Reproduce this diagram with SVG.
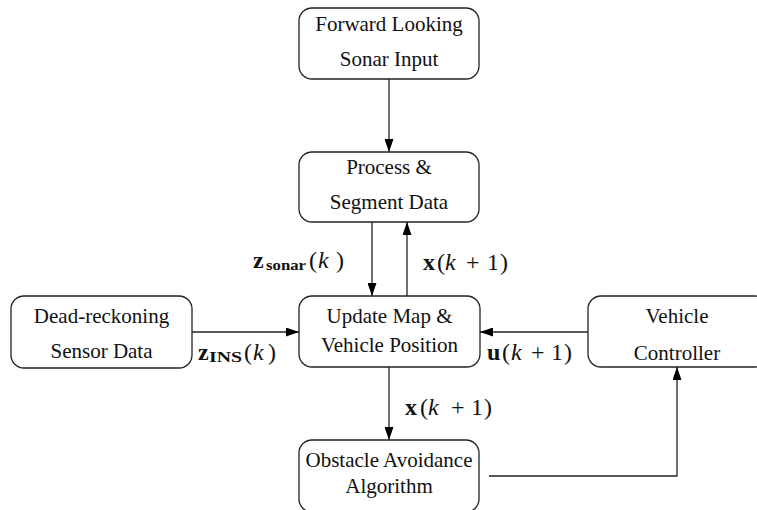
<svg xmlns="http://www.w3.org/2000/svg" width="757" height="510" viewBox="0 0 757 510">
<style>
.box{fill:#fff;stroke:#222;stroke-width:1.3}
text{font-family:"Liberation Serif","DejaVu Serif",serif;font-size:21px;fill:#111}
.t{text-anchor:middle}
.m{font-size:24px}
.b{font-weight:bold}
.i{font-style:italic}
.s{font-size:14px;font-weight:bold}
.c{fill:none;stroke:#222;stroke-width:1.3}
</style>
<defs>
<marker id="ah" markerUnits="userSpaceOnUse" markerWidth="14" markerHeight="9" refX="13" refY="4.5" orient="auto">
<path d="M0,0 L13,4.5 L0,9 Z" fill="#000"/>
</marker>
</defs>
<rect width="757" height="510" fill="#fff"/>
<g id="connectors">
<line class="c" x1="389" y1="79" x2="389" y2="152" marker-end="url(#ah)"/>
<line class="c" x1="372" y1="222" x2="372" y2="296" marker-end="url(#ah)"/>
<line class="c" x1="407" y1="296" x2="407" y2="222" marker-end="url(#ah)"/>
<line class="c" x1="192" y1="332" x2="299" y2="332" marker-end="url(#ah)"/>
<line class="c" x1="588" y1="332" x2="480" y2="332" marker-end="url(#ah)"/>
<line class="c" x1="389" y1="367" x2="389" y2="440" marker-end="url(#ah)"/>
<polyline class="c" points="489,476 677,476 677,367" marker-end="url(#ah)"/>
</g>
<g id="labels">
<text class="m" y="268"><tspan class="b" x="253">z</tspan><tspan class="s" x="266" dy="2" textLength="40" lengthAdjust="spacingAndGlyphs">sonar</tspan><tspan x="309" dy="-2">(</tspan><tspan class="i" x="318">k</tspan><tspan x="336">)</tspan></text>
<text class="m" y="270"><tspan class="b" x="423">x</tspan><tspan x="437">(</tspan><tspan class="i" x="445">k</tspan><tspan x="466">+</tspan><tspan x="487">1</tspan><tspan x="500">)</tspan></text>
<text class="m" y="360"><tspan class="b" x="198">z</tspan><tspan class="s" x="209" dy="2" textLength="33" lengthAdjust="spacingAndGlyphs">INS</tspan><tspan x="244" dy="-2">(</tspan><tspan class="i" x="253">k</tspan><tspan x="268">)</tspan></text>
<text class="m" y="360"><tspan class="b" x="487">u</tspan><tspan x="502">(</tspan><tspan class="i" x="511">k</tspan><tspan x="531">+</tspan><tspan x="551">1</tspan><tspan x="564">)</tspan></text>
<text class="m" y="415"><tspan class="b" x="405">x</tspan><tspan x="420">(</tspan><tspan class="i" x="428">k</tspan><tspan x="451">+</tspan><tspan x="471">1</tspan><tspan x="484">)</tspan></text>
</g>
<g id="sonar-input">
<rect class="box" x="299" y="8" width="180" height="71" rx="13"/>
<text class="t" x="389" y="31">Forward Looking</text>
<text class="t" x="389" y="66">Sonar Input</text>
</g>
<g id="process">
<rect class="box" x="299" y="152" width="180" height="70" rx="13"/>
<text class="t" x="389" y="174">Process &amp;</text>
<text class="t" x="389" y="209">Segment Data</text>
</g>
<g id="update">
<rect class="box" x="299" y="296" width="181" height="71" rx="13"/>
<text class="t" x="389.5" y="323">Update Map &amp;</text>
<text class="t" x="389.5" y="352">Vehicle Position</text>
</g>
<g id="dead-reckoning">
<rect class="box" x="11" y="296" width="181" height="72" rx="13"/>
<text class="t" x="101.5" y="323">Dead-reckoning</text>
<text class="t" x="101.5" y="358">Sensor Data</text>
</g>
<g id="controller">
<rect class="box" x="588" y="296" width="180" height="71" rx="13"/>
<text class="t" x="677" y="323">Vehicle</text>
<text class="t" x="677" y="360">Controller</text>
</g>
<g id="obstacle">
<rect class="box" x="299" y="440" width="180" height="72" rx="13"/>
<text class="t" x="389" y="467">Obstacle Avoidance</text>
<text class="t" x="389" y="493">Algorithm</text>
</g>
</svg>
